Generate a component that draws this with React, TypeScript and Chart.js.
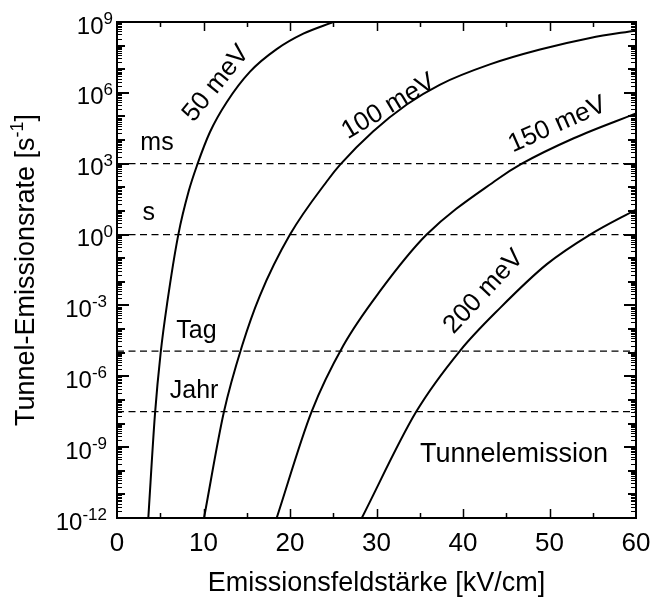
import React, { useEffect, useRef } from "react";
import { Chart, registerables } from "chart.js";

Chart.register(...registerables);

// ---- data ----
const fieldTicks = [0, 10, 20, 30, 40, 50, 60];
const rateExponents = [9, 6, 3, 0, -3, -6, -9, -12];

const field50 = [3.62, 4.39, 5.05, 5.82, 7.09, 8.3, 9.28, 10.75, 12.68, 15.38, 18.46, 21.54, 25.0];
const rate50 = [1e-12, 2.5e-8, 1e-5, 1.4e-3, 1, 7.1e1, 9.1e2, 2.2e4, 4.0e5, 7.9e6, 7.1e7, 3.2e8, 1e9];

const field100 = [10.06, 12.37, 14.49, 16.5, 20.0, 24.4, 25.8, 29.6, 33.5, 37.3, 43.1, 48.9, 54.7, 60];
const rate100 = [1e-12, 3.2e-8, 2.1e-5, 2.5e-3, 1, 2.1e2, 9.1e2, 2.3e4, 3.2e5, 2.2e6, 1.6e7, 6.8e7, 2.1e8, 4.4e8];

const field150 = [18.46, 22.5, 26.2, 30.4, 35.8, 43.9, 46.8, 52.8, 60];
const rate150 = [1e-12, 3.2e-8, 2.1e-5, 4.0e-3, 1, 2.1e2, 1e3, 1.2e4, 1.35e5];

const field200 = [28.3, 34.6, 39.7, 44.3, 49.7, 54.7, 60];
const rate200 = [1e-12, 3.2e-8, 1.26e-5, 7.9e-4, 5.6e-2, 1, 1.15e1];

const curveNames = ["50 meV", "100 meV", "150 meV", "200 meV"];

const thresholdNames = ["ms", "s", "Tag", "Jahr"];
const thresholdRates = [1e3, 1, 1.157e-5, 3.17e-8];

// ---- styles / placement ----
const FONT = '"Liberation Sans", Arial, Helvetica, sans-serif';

const curveLabelPlacement = [
  { x: 11.45, y: 2.45e6, angle: -51 },
  { x: 31.4, y: 2.6e5, angle: -31 },
  { x: 50.9, y: 4.5e4, angle: -24 },
  { x: 42.4, y: 3.8e-3, angle: -47 },
];
const thresholdLabelPlacement = [
  { x: 2.7, y: 7.4e3 },
  { x: 2.95, y: 8.0 },
  { x: 6.85, y: 8.0e-5 },
  { x: 6.1, y: 2.4e-7 },
];
const regionLabel = { text: "Tunnelemission", x: 45.9, y: 5.1e-10 };

const zip = (xs: number[], ys: number[]) => xs.map((x, i) => ({ x, y: ys[i] }));

const axesPlugin = {
  id: "axesDecor",
  afterDatasetsDraw(chart: any) {
    const { ctx, chartArea: a, scales } = chart;
    const xs = scales.x;
    const ys = scales.y;
    ctx.save();
    ctx.strokeStyle = "#000";
    ctx.lineCap = "butt";
    // y ticks (left and right, inside)
    for (let e = -12; e <= 9; e++) {
      const p = Math.round(ys.getPixelForValue(Math.pow(10, e)));
      const len = e % 3 === 0 ? 12 : 8;
      ctx.lineWidth = 2;
      ctx.beginPath();
      ctx.moveTo(a.left, p);
      ctx.lineTo(a.left + len, p);
      ctx.moveTo(a.right, p);
      ctx.lineTo(a.right - len, p);
      ctx.stroke();
      if (e < 9) {
        ctx.lineWidth = 1;
        for (let m = 2; m <= 9; m++) {
          const q = Math.round(ys.getPixelForValue(m * Math.pow(10, e))) + 0.5;
          ctx.beginPath();
          ctx.moveTo(a.left, q);
          ctx.lineTo(a.left + 5, q);
          ctx.moveTo(a.right, q);
          ctx.lineTo(a.right - 5, q);
          ctx.stroke();
        }
      }
    }
    // x ticks (bottom and top, inside)
    for (let v = 5; v < 60; v += 5) {
      const p = Math.round(xs.getPixelForValue(v)) + 0.5;
      const len = v % 10 === 0 ? 9 : 5;
      ctx.lineWidth = 1.5;
      ctx.beginPath();
      ctx.moveTo(p, a.bottom);
      ctx.lineTo(p, a.bottom - len);
      ctx.moveTo(p, a.top);
      ctx.lineTo(p, a.top + len);
      ctx.stroke();
    }
    // frame
    ctx.lineWidth = 2;
    ctx.strokeRect(a.left, a.top, a.right - a.left, a.bottom - a.top);

    // annotation text
    ctx.fillStyle = "#000";
    ctx.font = `26px ${FONT}`;
    ctx.textBaseline = "middle";
    curveNames.forEach((t, i) => {
      const pl = curveLabelPlacement[i];
      ctx.save();
      ctx.translate(xs.getPixelForValue(pl.x), ys.getPixelForValue(pl.y));
      ctx.rotate((pl.angle * Math.PI) / 180);
      ctx.textAlign = "center";
      ctx.fillText(t, 0, 0);
      ctx.restore();
    });
    ctx.font = `25px ${FONT}`;
    ctx.textAlign = "left";
    thresholdNames.forEach((t, i) => {
      const pl = thresholdLabelPlacement[i];
      ctx.fillText(t, xs.getPixelForValue(pl.x), ys.getPixelForValue(pl.y));
    });
    ctx.font = `27px ${FONT}`;
    ctx.textAlign = "center";
    ctx.fillText(regionLabel.text, xs.getPixelForValue(regionLabel.x), ys.getPixelForValue(regionLabel.y));
    ctx.restore();
  },
  afterDraw(chart: any) {
    const { ctx, chartArea: a, scales } = chart;
    const xs = scales.x;
    const ys = scales.y;
    ctx.save();
    ctx.fillStyle = "#000";
    // x tick labels
    ctx.font = `26px ${FONT}`;
    ctx.textAlign = "center";
    ctx.textBaseline = "alphabetic";
    fieldTicks.forEach((v) => {
      ctx.fillText(String(v), xs.getPixelForValue(v), a.bottom + 33);
    });
    // y tick labels 10^n
    rateExponents.forEach((e) => {
      const p = ys.getPixelForValue(Math.pow(10, e));
      const right = e >= 0 ? a.left - 4 : a.left - 10;
      ctx.font = `17px ${FONT}`;
      const sup = String(e);
      const sw = ctx.measureText(sup).width;
      ctx.font = `24px ${FONT}`;
      const bw = ctx.measureText("10").width;
      ctx.textAlign = "left";
      ctx.fillText("10", right - sw - bw, p + 11.5);
      ctx.font = `17px ${FONT}`;
      ctx.fillText(sup, right - sw, p + 2);
    });
    // x title
    ctx.font = `27px ${FONT}`;
    ctx.textAlign = "center";
    ctx.fillText("Emissionsfeldstärke [kV/cm]", (a.left + a.right) / 2, 591);
    // y title (rotated) with superscript
    const main = "Tunnel-Emissionsrate [s";
    const sup = "-1";
    const end = "]";
    ctx.font = `27px ${FONT}`;
    const w1 = ctx.measureText(main).width;
    const w3 = ctx.measureText(end).width;
    ctx.font = `18px ${FONT}`;
    const w2 = ctx.measureText(sup).width;
    const total = w1 + w2 + w3;
    ctx.translate(34, (a.top + a.bottom) / 2);
    ctx.rotate(-Math.PI / 2);
    ctx.textAlign = "left";
    let x0 = -total / 2;
    ctx.font = `27px ${FONT}`;
    ctx.fillText(main, x0, 0);
    x0 += w1;
    ctx.font = `18px ${FONT}`;
    ctx.fillText(sup, x0, -11);
    x0 += w2;
    ctx.font = `27px ${FONT}`;
    ctx.fillText(end, x0, 0);
    ctx.restore();
  },
};

export default function App() {
  const ref = useRef<HTMLCanvasElement | null>(null);
  useEffect(() => {
    if (!ref.current) return;
    const curveSets = [
      zip(field50, rate50),
      zip(field100, rate100),
      zip(field150, rate150),
      zip(field200, rate200),
    ];
    const datasets: any[] = [];
    thresholdRates.forEach((r, i) => {
      datasets.push({
        label: thresholdNames[i],
        data: [
          { x: fieldTicks[0], y: r },
          { x: fieldTicks[fieldTicks.length - 1], y: r },
        ],
        borderColor: "#000",
        borderWidth: 1.3,
        borderDash: [7, 4.5],
        pointRadius: 0,
        fill: false,
      });
    });
    curveSets.forEach((d, i) => {
      datasets.push({
        label: curveNames[i],
        data: d,
        borderColor: "#000",
        borderWidth: 2,
        pointRadius: 0,
        cubicInterpolationMode: "monotone",
        fill: false,
      });
    });
    const chart = new Chart(ref.current, {
      type: "line",
      data: { datasets },
      options: {
        responsive: false,
        animation: false,
        events: [],
        layout: { padding: { top: 22, right: 14, left: 0, bottom: 0 } },
        plugins: { legend: { display: false }, tooltip: { enabled: false } },
        scales: {
          x: {
            type: "linear",
            min: 0,
            max: 60,
            ticks: { display: false },
            grid: { display: false },
            border: { display: false },
            afterFit(s: any) {
              s.height = 83;
            },
          },
          y: {
            type: "logarithmic",
            min: 1e-12,
            max: 1e9,
            ticks: { display: false },
            grid: { display: false },
            border: { display: false },
            afterFit(s: any) {
              s.width = 117;
            },
          },
        },
      },
      plugins: [axesPlugin],
    } as any);
    return () => chart.destroy();
  }, []);
  return (
    <div style={{ position: "absolute", left: 0, top: 0, width: 650, height: 601, background: "#fff" }}>
      <canvas ref={ref} width={650} height={601} style={{ display: "block" }} />
    </div>
  );
}
